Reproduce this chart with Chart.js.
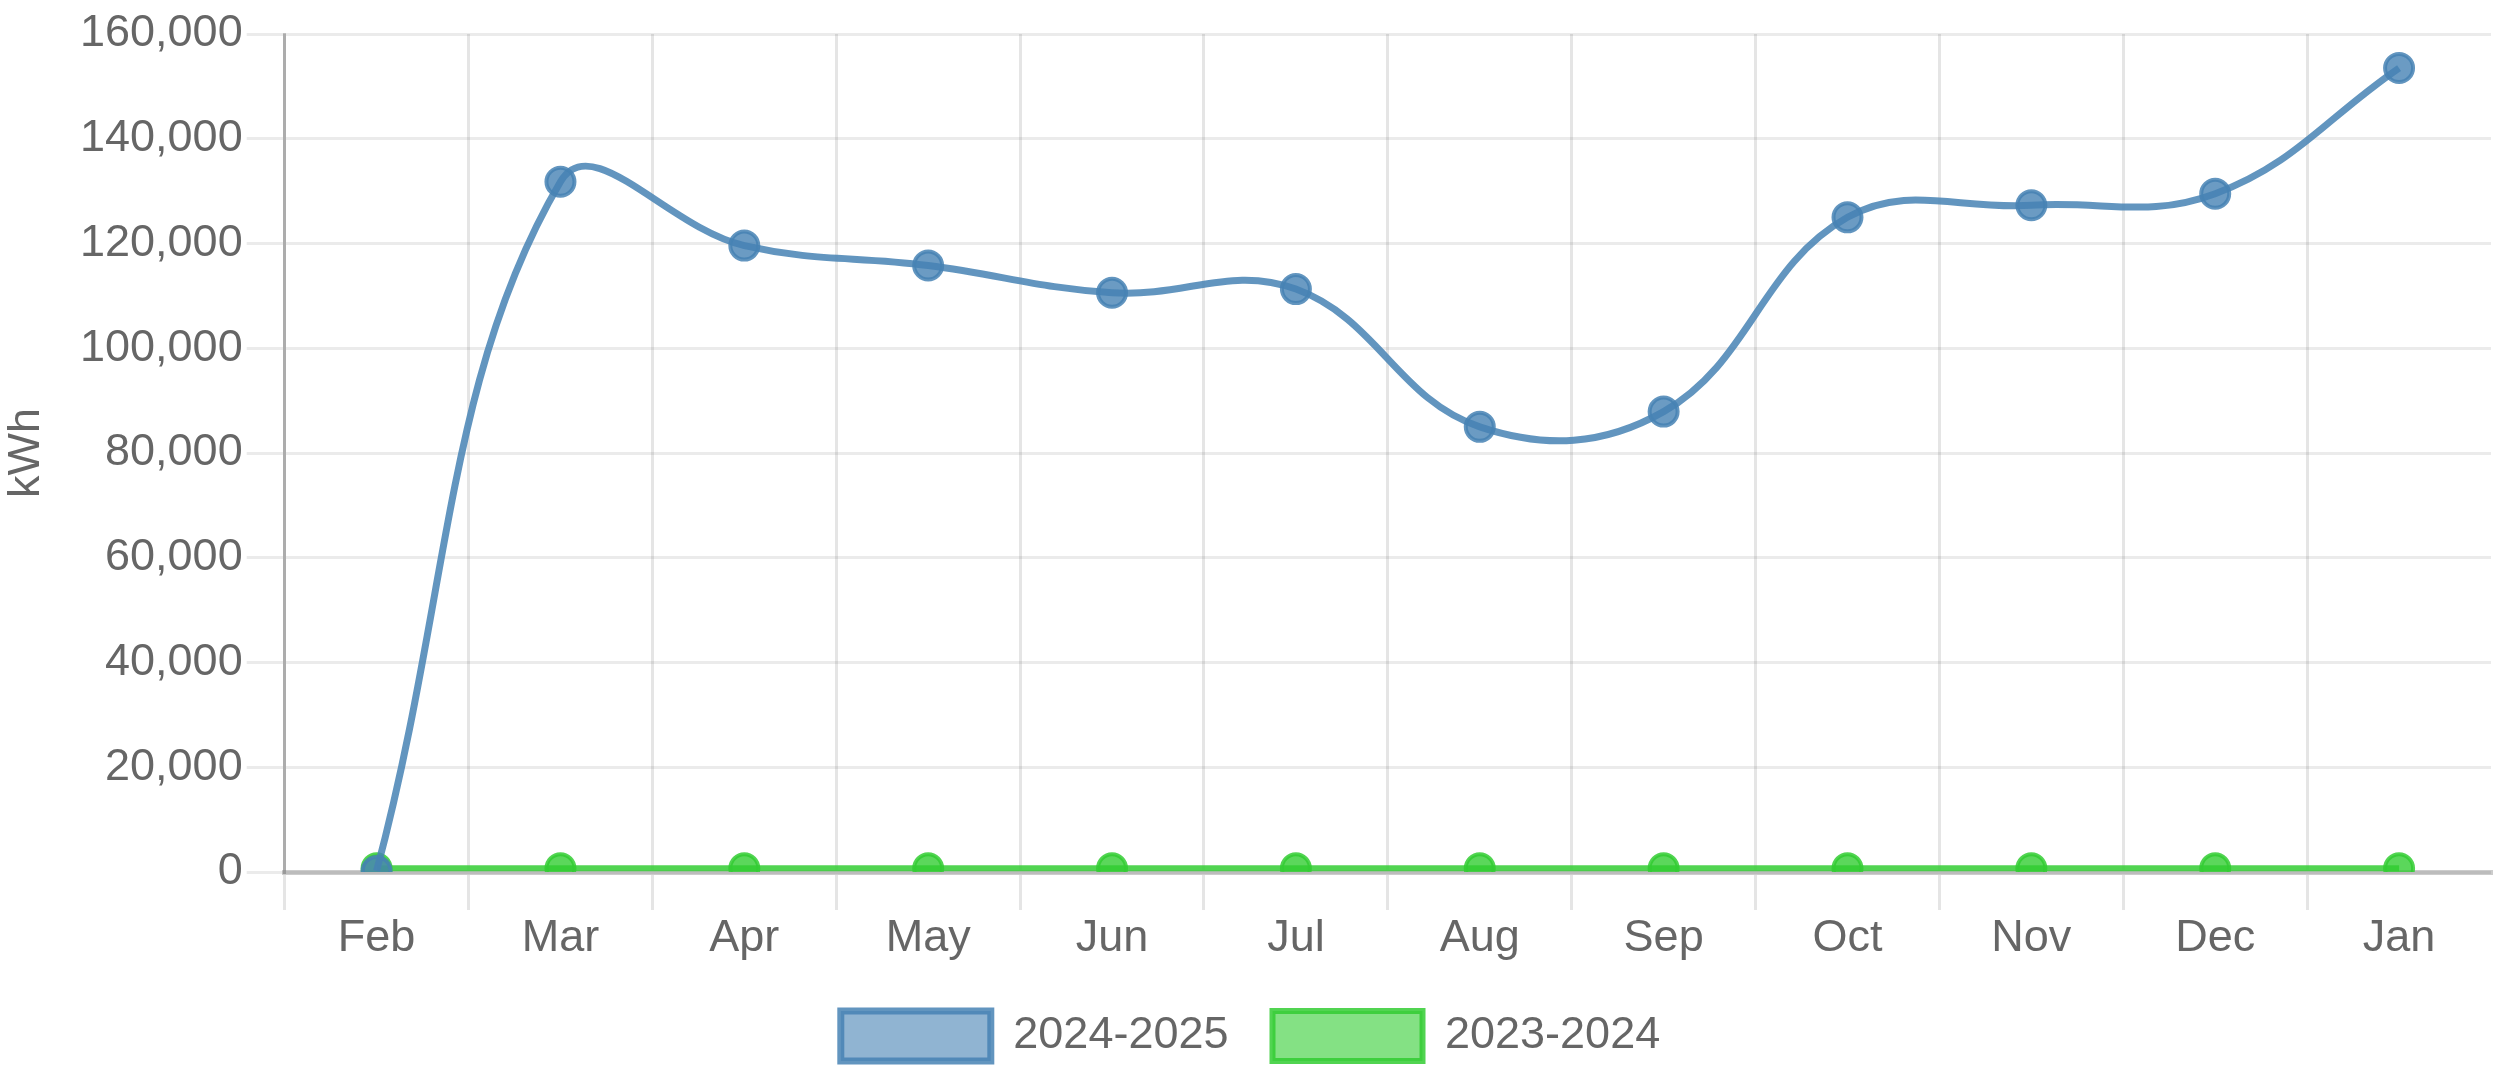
<!DOCTYPE html>
<html>
<head>
<meta charset="utf-8">
<script src="https://cdn.jsdelivr.net/npm/chart.js@4/dist/chart.umd.min.js"></script>
<style>
  html, body { margin: 0; padding: 0; background: #fff; }
  #wrap { width: 2509px; height: 1066px; position: relative; }
</style>
</head>
<body>
<div id="wrap"><canvas id="chart"></canvas></div>
<script>
const months = ['Feb', 'Mar', 'Apr', 'May', 'Jun', 'Jul', 'Aug', 'Sep', 'Oct', 'Nov', 'Dec', 'Jan'];
const usage2024 = [200, 131800, 119600, 115800, 110600, 111300, 85000, 87900, 125000, 127300, 129500, 153500];
const usage2023 = [700, 700, 700, 700, 700, 700, 700, 700, 700, 700, 700, 700];
const yMin = 0;
const yMax = 160000;
const yStep = 20000;

Chart.defaults.font.family = '"Liberation Sans", Arial, sans-serif';
Chart.defaults.color = '#666';

const ctx = document.getElementById('chart').getContext('2d');
new Chart(ctx, {
  type: 'line',
  data: {
    labels: months,
    datasets: [{
      label: '2024-2025',
      data: usage2024,
      borderColor: 'rgba(70,130,180,0.85)',
      backgroundColor: 'rgba(70,130,180,0.6)',
      pointBackgroundColor: 'rgba(70,130,180,0.8)',
      pointBorderColor: 'rgba(70,130,180,0.85)',
      borderWidth: 7,
      pointRadius: 14,
      pointBorderWidth: 4,
      tension: 0.4,
      fill: false
    }, {
      label: '2023-2024',
      data: usage2023,
      borderColor: 'rgba(50,205,50,0.85)',
      backgroundColor: 'rgba(50,205,50,0.6)',
      pointBackgroundColor: 'rgba(50,205,50,0.8)',
      pointBorderColor: 'rgba(50,205,50,0.85)',
      borderWidth: 6,
      pointRadius: 14,
      pointBorderWidth: 4,
      tension: 0.4,
      fill: false
    }]
  },
  options: {
    responsive: true,
    maintainAspectRatio: false,
    animation: false,
    layout: { padding: { top: 34, right: 8, left: 0, bottom: -5 } },
    plugins: {
      legend: {
        position: 'bottom',
        labels: {
          boxWidth: 150,
          boxHeight: 50,
          padding: 44,
          font: { size: 45 },
          color: '#666'
        }
      },
      tooltip: { enabled: false }
    },
    scales: {
      x: {
        offset: true,
        grid: {
          offset: true,
          color: (c) => (c.index === undefined ? 'rgba(0,0,0,0)' : 'rgba(0,0,0,0.1)'),
          lineWidth: 3,
          tickLength: 38
        },
        border: { color: 'rgba(0,0,0,0.2)', width: 5 },
        ticks: { font: { size: 45, lineHeight: 1.4 }, color: '#666', padding: -3 }
      },
      y: {
        min: yMin,
        max: yMax,
        grid: { color: 'rgba(0,0,0,0.08)', lineWidth: 3, tickLength: 38 },
        border: { color: 'rgba(0,0,0,0.25)', width: 3 },
        ticks: { stepSize: yStep, font: { size: 45 }, color: '#666', padding: 4 },
        title: { display: true, text: 'kWh', font: { size: 45 }, color: '#666', padding: { top: 0, bottom: 22 } }
      }
    }
  }
});
</script>
</body>
</html>
